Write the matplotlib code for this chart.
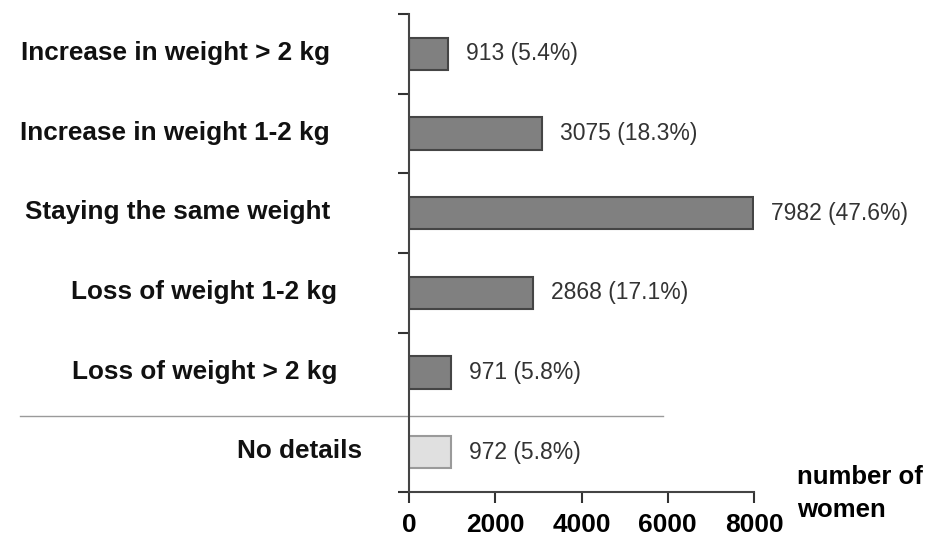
import numpy as np
from matplotlib import pyplot as plt
from matplotlib import transforms

plt.rcParams["font.family"] = ["Liberation Sans", "DejaVu Sans"]

categories = [
    "Increase in weight > 2 kg",
    "Increase in weight 1-2 kg",
    "Staying the same weight",
    "Loss of weight 1-2 kg",
    "Loss of weight > 2 kg",
    "No details",
]
counts = [913, 3075, 7982, 2868, 971, 972]
percents = [5.4, 18.3, 47.6, 17.1, 5.8, 5.8]
xticks = [0, 2000, 4000, 6000, 8000]

# right edge of each category label, in axes fraction
label_right = [-0.229, -0.229, -0.229, -0.209, -0.209, -0.136]

fig = plt.figure(figsize=(9.44, 5.52), dpi=100)
ax = fig.add_axes([409 / 944, 1 - 492 / 552, 345 / 944, 478 / 552])

ypos = np.arange(len(categories))
fills = ["#808080"] * 5 + ["#e0e0e0"]
edges = ["#454545"] * 5 + ["#9a9a9a"]
ax.barh(ypos, counts, height=0.41, color=fills, edgecolor=edges, linewidth=1.5)

for y, c, p in zip(ypos, counts, percents):
    ax.annotate("{} ({}%)".format(c, p), (c, y), xytext=(13, 0),
                textcoords="offset points", va="center", ha="left",
                fontsize=16.5, color="#333333")

trans = transforms.blended_transform_factory(ax.transAxes, ax.transData)
for y, lab, xr in zip(ypos, categories, label_right):
    ax.text(xr, y - 0.01, lab, transform=trans, ha="right", va="center",
            fontsize=18.8, fontweight="bold", color="#111111")

# separator between answers and "no details"
ax.plot([-1.128, 0.736], [4.55, 4.55], transform=trans, color="#9a9a9a",
        lw=1.0, clip_on=False)

ax.set_xlim(0, 8000)
ax.set_ylim(5.5, -0.5)
ax.set_xticks(xticks)
ax.set_xticklabels([str(t) for t in xticks], fontsize=19, fontweight="bold")
ax.set_yticks([-0.5, 0.5, 1.5, 2.5, 3.5, 5.5])
ax.set_yticklabels([])
ax.tick_params(axis="x", length=8, width=1.5, color="#333333", pad=7)
ax.tick_params(axis="y", length=8, width=1.5, color="#333333")
for s in ["top", "right"]:
    ax.spines[s].set_visible(False)
for s in ["left", "bottom"]:
    ax.spines[s].set_linewidth(1.5)
    ax.spines[s].set_color("#444444")

fig.text(797 / 944, 1 - 465 / 552, "number of\nwomen", ha="left", va="top",
         fontsize=18.5, fontweight="bold", linespacing=1.45)

fig.savefig("out.png", dpi=100)
